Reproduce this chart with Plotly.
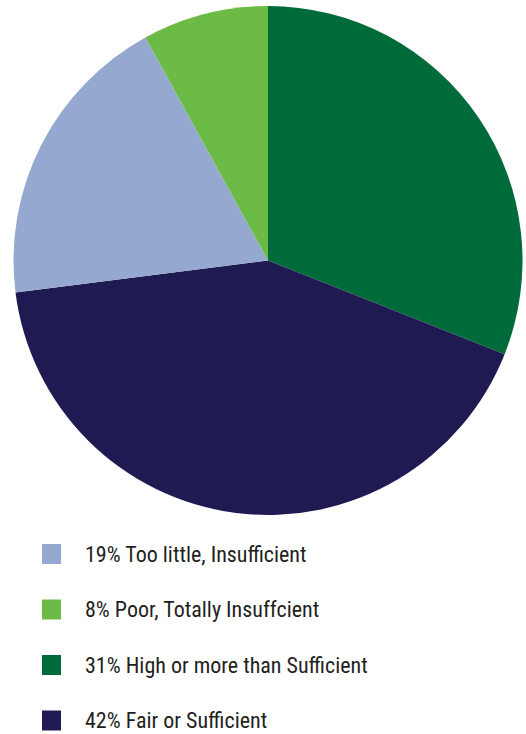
import plotly.graph_objects as go

# Slice data, in clockwise drawing order starting at 12 o'clock
slice_labels = ["High or more than Sufficient", "Fair or Sufficient",
                "Too little, Insufficient", "Poor, Totally Insuffcient"]
slice_values = [31, 42, 19, 8]
slice_colors = ["#006B3A", "#201A52", "#95A8CF", "#6CBB47"]

# Legend rows, top to bottom
legend_order = ["Too little, Insufficient", "Poor, Totally Insuffcient",
                "High or more than Sufficient", "Fair or Sufficient"]

W, H = 526, 734

fig = go.Figure(go.Pie(
    labels=slice_labels,
    values=slice_values,
    marker=dict(colors=slice_colors, line=dict(width=0)),
    sort=False,
    direction="clockwise",
    rotation=0,
    textinfo="none",
    hoverinfo="label+percent",
    showlegend=False,
    domain=dict(x=[13.5 / W, 522.5 / W], y=[1 - 515 / H, 1 - 6 / H]),
))

# Hand-built legend: coloured square + text per row
row_top = 554
row_step = 55.5
shapes, annotations = [], []
value_of = dict(zip(slice_labels, slice_values))
color_of = dict(zip(slice_labels, slice_colors))
for i, name in enumerate(legend_order):
    cy = row_top + i * row_step
    shapes.append(dict(
        type="rect", xref="paper", yref="paper",
        x0=42 / W, x1=61 / W,
        y0=1 - (cy + 10) / H, y1=1 - (cy - 10) / H,
        fillcolor=color_of[name], line=dict(width=0),
    ))
    annotations.append(dict(
        xref="paper", yref="paper", x=83 / W, y=1 - cy / H,
        xanchor="left", yanchor="middle", showarrow=False,
        text=f"{value_of[name]}% {name}",
        font=dict(family="Liberation Sans Narrow, Arial Narrow, Roboto Condensed, sans-serif",
                  size=22, color="#231F20"),
    ))

fig.update_layout(
    width=W, height=H,
    margin=dict(l=0, r=0, t=0, b=0),
    paper_bgcolor="white", plot_bgcolor="white",
    shapes=shapes, annotations=annotations,
)

fig.write_html("out.html")
